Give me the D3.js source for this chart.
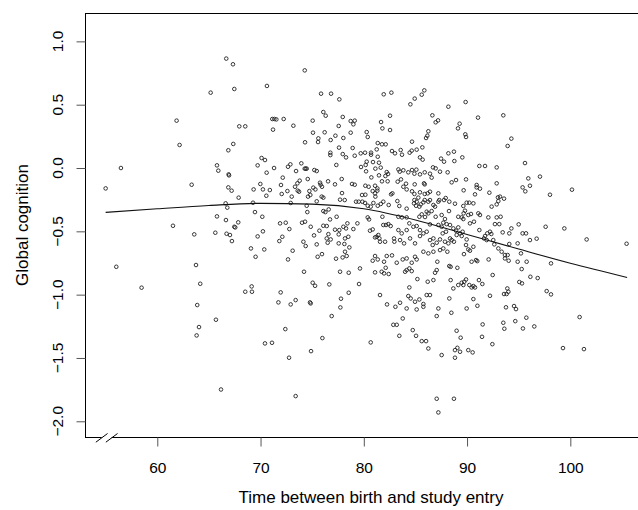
<!DOCTYPE html>
<html>
<head>
<meta charset="utf-8">
<script src="https://cdn.jsdelivr.net/npm/d3@7"></script>
<style>
  html, body { margin: 0; padding: 0; background: #fff; }
  svg { display: block; }
  text { font-family: "Liberation Sans", Arial, Helvetica, sans-serif; fill: #000; }
</style>
</head>
<body>
<svg id="chart" width="638" height="510"></svg>
<script>
// ---- Data ----
const xTicks = [60, 70, 80, 90, 100];
const xTickLabels = ["60", "70", "80", "90", "100"];
const yTicks = [1.0, 0.5, 0.0, -0.5, -1.0, -1.5, -2.0];
const yTickLabels = ["1.0", "0.5", "0.0", "\u22120.5", "\u22121.0", "\u22121.5", "\u22122.0"];
const xLabel = "Time between birth and study entry";
const yLabel = "Global cognition";
const xLimits = [53, 107];
const yLimits = [-2.124, 1.224];

// smoothed trend (age at entry, predicted cognition)
const smoothAge = [55, 60, 65, 70, 75, 80, 85, 90, 95, 100, 105.5];
const smoothCog = [-0.35, -0.322, -0.296, -0.279, -0.285, -0.322, -0.41, -0.525, -0.64, -0.752, -0.864];

// individual observations [age at entry, global cognition]
const observations = [
[66.68,0.864],[67.33,0.819],[65.17,0.595],[67.46,0.624],[70.62,0.648],[61.87,0.374],[67.94,0.329],[68.52,0.329],[62.16,0.182],[67.36,0.19],[66.88,0.14],[56.48,0.0],[70.1,0.079],[70.43,0.063],[65.78,0.021],[69.72,0.021],[65.91,-0.021],[66.91,-0.05],[66.95,-0.058],[70.59,-0.037],[55.0,-0.161],[63.33,-0.132],[69.98,-0.126],[66.88,-0.153],[67.2,-0.179],[69.33,-0.169],[70.23,-0.169],[70.9,-0.174],[70.56,-0.219],[67.88,-0.234],[66.62,-0.279],[69.27,-0.274],[66.78,-0.313],[69.46,-0.348],[65.78,-0.382],[70.17,-0.385],
[61.52,-0.456],[66.65,-0.411],[67.84,-0.429],[67.46,-0.464],[67.55,-0.469],[63.58,-0.524],[65.62,-0.511],[66.71,-0.519],[67.04,-0.529],[67.23,-0.577],[69.72,-0.54],[70.23,-0.5],[69.07,-0.635],[70.36,-0.643],[69.52,-0.701],[56.03,-0.78],[63.75,-0.766],[58.48,-0.945],[64.16,-0.914],[69.14,-0.935],[68.52,-0.977],[69.17,-0.977],[63.87,-1.082],[65.68,-1.198],[64.04,-1.256],[63.81,-1.322],[70.43,-1.385],[66.17,-1.749],
[74.28,0.771],[75.86,0.587],[76.83,0.587],[77.63,0.542],[81.93,0.582],[82.67,0.595],[84.51,0.503],[84.93,0.548],[85.61,0.579],[85.86,0.613],[76.08,0.442],[76.31,0.413],[77.96,0.403],[71.14,0.387],[71.34,0.387],[71.53,0.384],[72.24,0.387],[71.21,0.303],[73.18,0.334],[75.05,0.374],[78.73,0.371],[79.12,0.374],[78.99,0.345],[77.57,0.332],[81.67,0.363],[82.54,0.413],[81.8,0.313],[82.54,0.3],[86.64,0.416],[86.96,0.361],[87.19,0.376],[75.08,0.279],[76.21,0.282],[78.73,0.279],[80.28,0.284],[80.38,0.245],[77.25,0.255],[78.02,0.237],[76.79,0.221],[75.6,0.234],[75.57,0.205],[74.31,0.203],[81.35,0.197],[81.76,0.187],[82.12,0.187],[84.67,0.208],[86.03,0.237],[86.15,0.255],[86.25,0.29],[85.67,0.163],[85.12,0.145],[77.6,0.161],[78.92,0.158],[81.25,0.147],[76.76,0.121],[76.76,0.102],[77.96,0.11],[78.28,0.084],[79.12,0.097],[79.7,0.116],[80.12,0.121],[80.7,0.121],[80.7,0.105],[81.35,0.089],[82.73,0.134],[83.02,0.116],[83.57,0.142],[83.7,0.105],[84.44,0.121],[84.64,0.137],[85.44,0.084],[85.7,0.066],[80.28,0.05],[80.18,0.024],[80.89,0.047],[81.47,0.042],[77.34,0.024],[71.31,0.0],[72.66,0.01],[72.89,0.029],[73.95,0.037],[74.28,-0.005],[74.37,-0.005],[74.47,-0.005],[75.21,-0.016],[75.44,-0.024],[73.44,-0.024],[79.73,0.008],[81.12,-0.005],[81.64,0.003],[80.22,-0.026],[82.22,-0.032],[82.35,-0.047],[82.09,-0.063],[83.35,-0.011],[83.48,-0.029],[83.83,-0.018],[84.31,-0.034],[84.67,-0.016],[84.9,-0.045],[85.09,-0.013],[85.44,-0.05],[85.9,-0.034],[86.41,-0.045],[86.57,-0.076],[86.7,0.005],[86.96,-0.003],[80.73,-0.074],[77.86,-0.087],[72.15,-0.076],[73.79,-0.1],[73.57,-0.121],[74.57,-0.087],[81.47,-0.058],[76.54,-0.105],[83.28,-0.108],[83.6,-0.09],[71.98,-0.134],
[75.76,-0.116],[75.82,-0.132],[75.95,-0.148],[77.21,-0.129],[78.86,-0.126],[79.12,-0.132],[80.15,-0.14],[80.47,-0.148],[81.09,-0.14],[81.31,-0.161],[81.76,-0.105],[82.31,-0.105],[84.09,-0.124],[84.93,-0.129],[85.83,-0.121],[85.9,-0.129],[83.83,-0.148],[84.15,-0.169],[84.67,-0.184],[84.9,-0.205],[85.44,-0.192],[85.9,-0.205],[86.19,-0.2],[86.41,-0.187],[87.22,-0.2],[72.05,-0.205],[72.6,-0.182],[73.02,-0.226],[73.34,-0.148],[73.6,-0.179],[73.73,-0.187],[74.73,-0.182],[74.82,-0.213],[74.6,-0.226],[75.11,-0.155],[75.31,-0.169],[75.92,-0.226],[76.08,-0.234],[77.89,-0.198],[77.7,-0.25],[78.15,-0.253],[72.92,-0.276],[75.44,-0.263],[79.83,-0.213],[80.15,-0.211],[80.86,-0.182],[81.09,-0.2],[81.31,-0.179],[81.12,-0.226],[82.64,-0.208],[82.77,-0.2],[79.25,-0.266],[79.51,-0.266],[79.86,-0.266],[80.12,-0.276],[80.38,-0.298],[80.67,-0.305],[80.93,-0.276],[81.35,-0.298],[81.64,-0.284],[81.89,-0.266],[82.41,-0.292],[83.25,-0.261],[83.44,-0.3],[84.15,-0.321],[84.9,-0.253],[85.12,-0.266],[85.28,-0.234],[85.51,-0.287],[85.77,-0.271],[85.9,-0.253],[86.25,-0.266],[86.41,-0.253],[86.74,-0.292],[84.86,-0.279],[85.06,-0.298],[85.38,-0.305],[86.09,-0.345],[86.9,-0.305],[87.22,-0.266],[74.47,-0.298],[74.53,-0.348],[76.08,-0.34],[76.28,-0.348],[76.6,-0.327],[77.37,-0.385],[76.73,-0.406],[80.38,-0.39],[80.51,-0.406],[81.8,-0.385],[83.35,-0.385],[83.7,-0.39],[84.15,-0.39],[85.38,-0.385],[85.61,-0.366],[85.93,-0.387],[86.25,-0.358],[86.57,-0.34],[86.96,-0.385],
[89.86,0.521],[88.19,0.484],[91.06,0.398],[93.51,0.416],[89.28,0.35],[89.12,0.313],[89.83,0.266],[89.9,0.245],[94.29,0.232],[93.93,0.174],[88.73,0.129],[88.19,0.116],[87.48,0.074],[87.77,0.05],[89.54,0.084],[88.77,0.055],[87.38,-0.029],[88.12,-0.034],[91.19,0.016],[91.74,0.016],[92.87,0.005],[95.61,0.039],[88.51,-0.113],[88.93,-0.095],[89.9,-0.09],[90.93,-0.134],[90.93,-0.153],[91.25,-0.163],[92.87,-0.121],[95.93,-0.082],[96.09,-0.14],[97.06,-0.068],[95.38,-0.153],[95.64,-0.184],[89.67,-0.176],[90.77,-0.208],[92.16,-0.195],[92.99,-0.232],[93.58,-0.242],[98.03,-0.211],[100.16,-0.171],[87.31,-0.253],[87.77,-0.253],[88.28,-0.266],[88.83,-0.282],[87.93,-0.237],[89.64,-0.3],[89.96,-0.274],[90.22,-0.274],[90.61,-0.279],[92.38,-0.305],[92.87,-0.287],[93.03,-0.261],[93.19,-0.226],[88.25,-0.34],[89.8,-0.337],[89.67,-0.358],[89.15,-0.385],[89.48,-0.39],[89.64,-0.403],[90.12,-0.371],[90.38,-0.363],[91.09,-0.358],[91.25,-0.371],[92.06,-0.39],[92.87,-0.39],[93.25,-0.385],[87.54,-0.371],[87.86,-0.403],
[86.41,-0.445],[87.22,-0.45],[87.54,-0.464],[87.7,-0.432],[88.02,-0.443],[88.35,-0.45],[87.96,-0.503],[87.64,-0.516],[88.67,-0.477],[88.93,-0.495],[89.15,-0.469],[89.32,-0.516],[89.57,-0.503],[88.99,-0.529],[89.48,-0.537],[90.28,-0.437],[90.67,-0.424],[92.7,-0.443],[93.12,-0.443],[91.19,-0.49],[91.74,-0.537],[91.96,-0.516],[92.22,-0.503],[92.35,-0.521],[93.45,-0.508],[94.09,-0.516],[94.29,-0.477],[95.0,-0.445],[95.38,-0.516],[95.71,-0.516],[96.09,-0.569],[96.74,-0.558],[97.61,-0.464],[99.42,-0.477],[101.58,-0.564],[105.45,-0.598],[86.67,-0.608],[87.38,-0.564],[87.86,-0.582],[88.19,-0.595],[87.7,-0.635],[88.09,-0.661],[87.38,-0.648],[88.35,-0.556],[88.73,-0.582],[88.51,-0.569],[89.96,-0.564],[89.9,-0.608],[90.12,-0.643],[90.28,-0.653],[90.61,-0.622],[89.7,-0.68],[91.64,-0.556],[91.9,-0.569],[92.54,-0.569],[92.64,-0.603],[93.03,-0.635],[93.35,-0.661],[94.09,-0.6],[94.9,-0.595],[93.67,-0.687],[93.93,-0.687],[94.03,-0.732],[93.67,-0.714],[95.22,-0.674],[94.9,-0.74],[95.77,-0.74],[95.29,-0.798],[98.13,-0.753],[87.12,-0.74],[88.28,-0.774],[88.41,-0.78],[89.06,-0.788],[90.44,-0.74],[90.87,-0.727],[90.99,-0.735],[92.09,-0.722],[92.48,-0.845],[88.41,-0.885],[88.67,-0.951],[89.15,-0.924],[89.48,-0.906],[89.73,-0.898],[89.9,-0.88],[89.64,-0.924],[90.22,-0.924],[90.44,-0.943],[90.61,-0.932],[90.77,-0.943],[91.15,-0.885],[91.48,-0.916],[95.06,-0.9],[95.32,-0.911],[96.13,-0.859],[96.84,-0.869],[93.9,-0.951],[94.0,-0.977],[93.58,-0.995],[93.83,-0.995],[92.22,-1.009],[97.71,-0.972],[98.13,-0.998],[88.28,-1.03],[90.61,-1.035],[89.96,-1.109],[91.0,-1.088],[88.48,-1.143],[93.77,-1.1],[94.55,-1.09],[94.74,-1.114],[95.74,-1.182],[94.67,-1.209],[93.51,-1.222],[93.61,-1.269],[91.51,-1.235],[95.41,-1.267],[96.51,-1.251],[100.9,-1.177],[88.99,-1.285],[89.38,-1.34],[91.45,-1.333],[92.45,-1.391],[87.54,-1.477],[88.83,-1.438],[89.06,-1.42],[89.32,-1.451],[90.12,-1.438],[90.54,-1.456],[88.83,-1.498],[99.29,-1.422],[101.32,-1.43],[87.06,-1.822],[88.73,-1.822],[87.22,-1.93],
[71.89,-0.437],[72.44,-0.432],[71.82,-0.577],[72.11,-0.543],[72.79,-0.482],[74.02,-0.432],[74.31,-0.424],[74.86,-0.464],[75.18,-0.532],[75.7,-0.495],[76.08,-0.456],[76.41,-0.458],[76.57,-0.522],[76.41,-0.556],[76.5,-0.59],[76.79,-0.564],[77.21,-0.487],[77.63,-0.49],[77.57,-0.524],[78.02,-0.464],[78.41,-0.437],[78.28,-0.477],[78.5,-0.543],[78.18,-0.556],[77.57,-0.595],[78.12,-0.6],[78.6,-0.627],[78.99,-0.482],[79.38,-0.437],[80.6,-0.495],[80.86,-0.485],[81.25,-0.543],[81.41,-0.529],[81.51,-0.556],[81.09,-0.548],[81.89,-0.45],[82.15,-0.45],[82.38,-0.443],[82.6,-0.458],[81.57,-0.582],[82.06,-0.582],[82.93,-0.556],[82.96,-0.582],[83.51,-0.569],[83.9,-0.595],[83.35,-0.49],[83.67,-0.516],[84.15,-0.49],[84.41,-0.437],[84.8,-0.464],[85.12,-0.458],[85.44,-0.49],[84.48,-0.556],[84.96,-0.595],[85.44,-0.537],[85.77,-0.516],[86.09,-0.503],[86.41,-0.569],[86.74,-0.556],[87.06,-0.59],[73.11,-0.653],[74.15,-0.582],[74.37,-0.616],[75.44,-0.603],[75.53,-0.701],[75.95,-0.68],[77.31,-0.716],[77.95,-0.706],[78.18,-0.661],[78.34,-0.695],[72.66,-0.722],[80.86,-0.732],[81.09,-0.695],[81.35,-0.722],[81.96,-0.74],[82.22,-0.695],[82.73,-0.69],[83.19,-0.748],[83.77,-0.722],[84.15,-0.714],[84.64,-0.748],[85.12,-0.722],[84.96,-0.701],[85.77,-0.661],[86.25,-0.674],[86.74,-0.661],[74.21,-0.819],[77.7,-0.819],[78.54,-0.827],[79.63,-0.793],[81.09,-0.824],[81.73,-0.819],[82.12,-0.788],[81.96,-0.832],[82.41,-0.837],[84.0,-0.819],[84.15,-0.806],[84.41,-0.793],[84.64,-0.814],[85.19,-0.877],[86.19,-0.898],[86.74,-0.885],[87.06,-0.806],[86.9,-0.827],[75.05,-0.906],[75.28,-0.93],[76.66,-0.919],[79.54,-0.916],[71.95,-0.982],[71.73,-1.061],[72.92,-1.077],[73.4,-1.043],[74.79,-1.061],[74.86,-1.069],[77.79,-1.032],[78.54,-0.985],[77.73,-1.101],[76.89,-1.169],[81.57,-1.003],[82.25,-1.077],[83.06,-1.096],[83.51,-1.064],[84.41,-0.943],[84.31,-1.011],[84.54,-1.03],[84.96,-1.056],[85.38,-1.038],[85.77,-1.074],[86.09,-1.003],[86.41,-1.003],[85.77,-1.096],[85.12,-1.117],[84.15,-1.109],[87.22,-1.109],[87.06,-1.169],[83.77,-1.188],[82.86,-1.238],[83.19,-1.238],[83.44,-1.325],[84.74,-1.28],[85.06,-1.325],[85.61,-1.367],[86.03,-1.367],[86.25,-1.425],[72.4,-1.272],[71.11,-1.38],[75.99,-1.343],[80.67,-1.377],[74.89,-1.446],[72.76,-1.498],[73.4,-1.801]
];

// ---- Layout ----
const svg = d3.select("#chart");
const x = d3.scaleLinear().domain(xLimits).range([85, 642.6]);
const y = d3.scaleLinear().domain(yLimits).range([437, 13]);
const fontTick = 15.5, fontTitle = 17;

// plot box (right edge falls outside the window)
svg.append("rect")
  .attr("x", x(xLimits[0]) + 0.5).attr("y", y(yLimits[1]) + 0.5)
  .attr("width", x(xLimits[1]) - x(xLimits[0])).attr("height", y(yLimits[0]) - y(yLimits[1]))
  .attr("fill", "none").attr("stroke", "#000").attr("stroke-width", 1);

// x axis
const xAxis = d3.axisBottom(x).tickValues(xTicks).tickSize(9).tickPadding(15)
  .tickFormat((d, i) => xTickLabels[i]);
const gx = svg.append("g").attr("transform", `translate(0,${y(yLimits[0]) + 0.5})`).call(xAxis);
gx.select(".domain").remove();
gx.selectAll(".tick line").attr("stroke", "#555").attr("stroke-width", 1);
gx.selectAll(".tick text").attr("font-size", fontTick).attr("font-family", "Liberation Sans, Arial, sans-serif").attr("fill", "#000");

// y axis
const yAxis = d3.axisLeft(y).tickValues(yTicks).tickSize(9).tickFormat("");
const gy = svg.append("g").attr("transform", `translate(${x(xLimits[0]) + 0.5},0)`).call(yAxis);
gy.select(".domain").remove();
gy.selectAll(".tick line").attr("stroke", "#555").attr("stroke-width", 1);
svg.append("g").selectAll("text").data(yTicks).join("text")
  .attr("transform", d => `translate(63,${y(d)}) rotate(-90)`)
  .attr("text-anchor", "middle")
  .attr("font-size", fontTick)
  .text((d, i) => yTickLabels[i]);

// axis break marks on the x axis
const bx = x(55) + 1, by = y(yLimits[0]) + 0.5;
svg.append("rect").attr("x", bx - 5).attr("y", by - 3).attr("width", 10).attr("height", 6).attr("fill", "#fff");
[[-10.8, 0.9], [-0.8, 10.9]].forEach(([a, b]) => {
  svg.append("line").attr("x1", bx + a).attr("y1", by + 4.7).attr("x2", bx + b).attr("y2", by - 4)
    .attr("stroke", "#000").attr("stroke-width", 1);
});

// points
svg.append("g").selectAll("circle").data(observations).join("circle")
  .attr("cx", d => x(d[0])).attr("cy", d => y(d[1])).attr("r", 1.8)
  .attr("fill", "none").attr("stroke", "#222").attr("stroke-width", 0.9);

// smooth line
const smooth = smoothAge.map((a, i) => [a, smoothCog[i]]);
svg.append("path").datum(smooth)
  .attr("d", d3.line().x(d => x(d[0])).y(d => y(d[1])).curve(d3.curveMonotoneX))
  .attr("fill", "none").attr("stroke", "#111").attr("stroke-width", 1.1);

// titles
svg.append("text").attr("x", 371).attr("y", 503).attr("text-anchor", "middle")
  .attr("font-size", fontTitle).text(xLabel);
svg.append("text").attr("transform", `translate(28,225) rotate(-90)`).attr("text-anchor", "middle")
  .attr("font-size", fontTitle).text(yLabel);
</script>
</body>
</html>
